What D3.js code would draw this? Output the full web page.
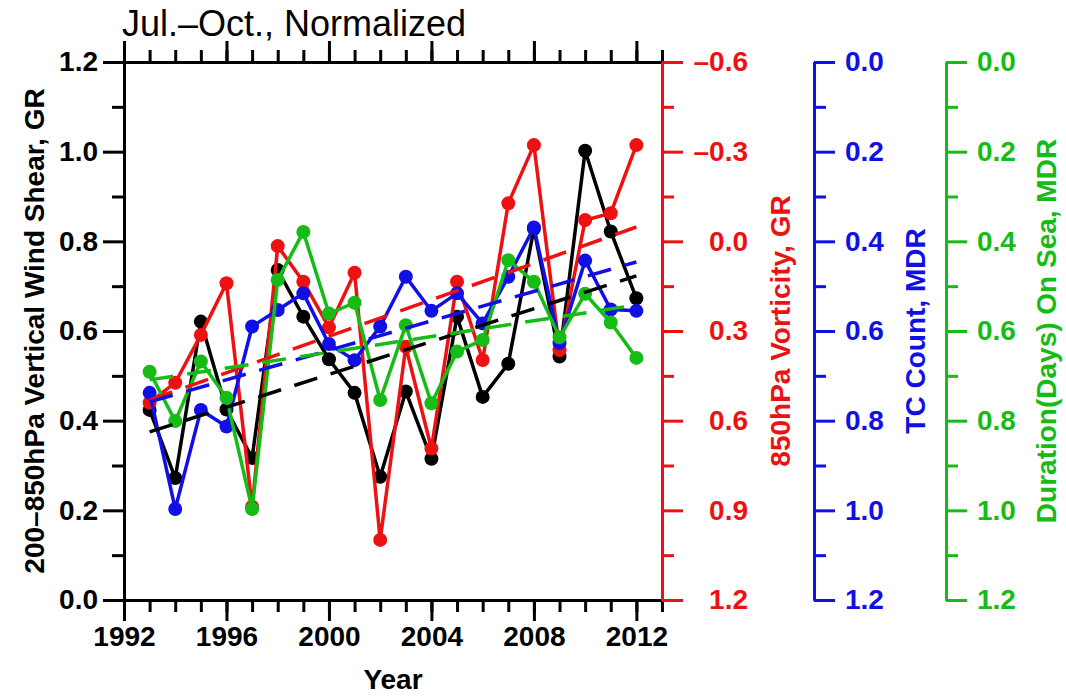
<!DOCTYPE html>
<html>
<head>
<meta charset="utf-8">
<script src="https://cdnjs.cloudflare.com/ajax/libs/d3/7.8.5/d3.min.js"></script>
<style>
body { margin: 0; background: #fff; }
text { font-family: "Liberation Sans", Arial, Helvetica, sans-serif; }
</style>
</head>
<body>
<div id="chart-area"></div>
<script>
// plot frame in page pixels
const PLOT = { LEFT: 124, RIGHT: 662, TOP: 62, BOTTOM: 600 }
const AXIS_X = { VORT: 662, COUNT: 814, DUR: 946 }

// data (Jul.-Oct., normalized)
const years = [1993, 1994, 1995, 1996, 1997, 1998, 1999, 2000, 2001, 2002,
	2003, 2004, 2005, 2006, 2007, 2008, 2009, 2010, 2011, 2012]
const windShear = [0.424, 0.272, 0.621, 0.425, 0.317, 0.736, 0.632, 0.537, 0.462, 0.275,
	0.465, 0.315, 0.632, 0.453, 0.527, 0.828, 0.543, 1.002, 0.822, 0.673]
const vorticity = [0.540, 0.473, 0.313, 0.140, 0.888, 0.016, 0.135, 0.288, 0.105, 0.999,
	0.353, 0.693, 0.135, 0.397, -0.127, -0.322, 0.364, -0.071, -0.094, -0.322]
const tcCount = [0.738, 0.997, 0.776, 0.813, 0.590, 0.553, 0.516, 0.629, 0.665, 0.590,
	0.479, 0.555, 0.516, 0.583, 0.479, 0.369, 0.627, 0.443, 0.552, 0.555]
const duration = [0.691, 0.801, 0.668, 0.749, 0.997, 0.486, 0.379, 0.561, 0.537, 0.754,
	0.587, 0.761, 0.646, 0.620, 0.442, 0.490, 0.614, 0.517, 0.581, 0.660]

// linear trend lines (start / end values as drawn)
const trendYears = [1993, 2012]
const windShearTrend = [0.375, 0.723]
const vorticityTrend = [0.531, -0.048]
const tcCountTrend = [0.758, 0.446]
const durationTrend = [0.709, 0.542]

// tick values
const yearTicks = [1992, 1996, 2000, 2004, 2008, 2012]
const yearMinor = [1992, 1993, 1994, 1995, 1996, 1997, 1998, 1999, 2000, 2001, 2002,
	2003, 2004, 2005, 2006, 2007, 2008, 2009, 2010, 2011, 2012, 2013]
const unitTicks = [0, 0.2, 0.4, 0.6, 0.8, 1.0, 1.2]
const unitMinor = [0.1, 0.3, 0.5, 0.7, 0.9, 1.1]
const vortTicks = [-0.6, -0.3, 0, 0.3, 0.6, 0.9, 1.2]
const vortMinor = [-0.45, -0.15, 0.15, 0.45, 0.75, 1.05]

const BLACK = "#000", RED = "#ee1111", BLUE = "#1010e6", GREEN = "#16bb16"

const svg = d3.select("#chart-area").append("svg")
	.attr("width", 1066)
	.attr("height", 696)

// scales
const x = d3.scaleLinear().domain([1992, 2013]).range([PLOT.LEFT, PLOT.RIGHT])
const yShear = d3.scaleLinear().domain([0, 1.2]).range([PLOT.BOTTOM, PLOT.TOP])
const yVort = d3.scaleLinear().domain([-0.6, 1.2]).range([PLOT.TOP, PLOT.BOTTOM])
const yCount = d3.scaleLinear().domain([0, 1.2]).range([PLOT.TOP, PLOT.BOTTOM])
const yDur = d3.scaleLinear().domain([0, 1.2]).range([PLOT.TOP, PLOT.BOTTOM])

const fmt1 = d3.format(".1f")
const fmtVort = d => d < 0 ? "\u2013" + fmt1(-d) : fmt1(d)

// draws one axis twice: minor ticks, then labelled major ticks
function addAxis(axisFn, scale, transform, major, minor, color, fmt, pad) {
	const g = svg.append("g").attr("transform", transform)
	g.append("g").call(axisFn(scale).tickValues(minor).tickSize(12).tickSizeOuter(0).tickFormat(""))
	const m = g.append("g").call(axisFn(scale).tickValues(major).tickSize(21).tickSizeOuter(0)
		.tickPadding(pad).tickFormat(fmt || ""))
	g.selectAll("path, line")
		.attr("stroke", color)
		.attr("stroke-width", 3)
	g.selectAll("text")
		.attr("fill", color)
		.attr("font-size", "28px")
		.attr("font-weight", "bold")
	return m
}

addAxis(d3.axisBottom, x, `translate(0, ${PLOT.BOTTOM})`, yearTicks, yearMinor, BLACK, d3.format("d"), 5)
addAxis(d3.axisTop, x, `translate(0, ${PLOT.TOP})`, yearTicks, yearMinor, BLACK, null, 5)
addAxis(d3.axisLeft, yShear, `translate(${PLOT.LEFT}, 0)`, unitTicks, unitMinor, BLACK, fmt1, 5)
const vortAxis = addAxis(d3.axisRight, yVort, `translate(${AXIS_X.VORT}, 0)`, vortTicks, vortMinor, RED, fmtVort, 10)
vortAxis.selectAll("text").attr("text-anchor", "end").attr("x", 86)
addAxis(d3.axisRight, yCount, `translate(${AXIS_X.COUNT}, 0)`, unitTicks, unitMinor, BLUE, fmt1, 10)
addAxis(d3.axisRight, yDur, `translate(${AXIS_X.DUR}, 0)`, unitTicks, unitMinor, GREEN, fmt1, 10)

// titles
svg.append("text")
	.attr("x", 122)
	.attr("y", 36)
	.attr("font-size", "36px")
	.text("Jul.\u2013Oct., Normalized")

svg.append("text")
	.attr("x", 393)
	.attr("y", 689)
	.attr("text-anchor", "middle")
	.attr("font-size", "28px")
	.attr("font-weight", "bold")
	.text("Year")

const yTitles = [
	{ x: 44, text: "200\u2013850hPa Vertical Wind Shear, GR", color: BLACK },
	{ x: 790, text: "850hPa Vorticity, GR", color: RED },
	{ x: 925, text: "TC Count, MDR", color: BLUE },
	{ x: 1056, text: "Duration(Days) On Sea, MDR", color: GREEN }
]
yTitles.forEach(t => {
	svg.append("text")
		.attr("transform", `translate(${t.x}, 331) rotate(-90)`)
		.attr("text-anchor", "middle")
		.attr("font-size", "28px")
		.attr("font-weight", "bold")
		.attr("fill", t.color)
		.text(t.text)
})

// series
const series = [
	{ values: windShear, trend: windShearTrend, y: yShear, color: BLACK },
	{ values: vorticity, trend: vorticityTrend, y: yVort, color: RED },
	{ values: tcCount, trend: tcCountTrend, y: yCount, color: BLUE },
	{ values: duration, trend: durationTrend, y: yDur, color: GREEN }
]

series.forEach(s => {
	const line = d3.line()
		.x((d, i) => x(years[i]))
		.y(d => s.y(d))
	svg.append("path")
		.attr("d", line(s.values))
		.attr("fill", "none")
		.attr("stroke", s.color)
		.attr("stroke-width", 3.5)
		.attr("stroke-linejoin", "round")
	svg.append("g").selectAll("circle")
		.data(s.values)
		.enter().append("circle")
		.attr("cx", (d, i) => x(years[i]))
		.attr("cy", d => s.y(d))
		.attr("r", 7)
		.attr("fill", s.color)
})

series.forEach(s => {
	const trendLine = d3.line()
		.x((d, i) => x(trendYears[i]))
		.y(d => s.y(d))
	svg.append("path")
		.attr("d", trendLine(s.trend))
		.attr("fill", "none")
		.attr("stroke", s.color)
		.attr("stroke-width", 3.5)
		.attr("stroke-dasharray", "24,14")
})
</script>
</body>
</html>
